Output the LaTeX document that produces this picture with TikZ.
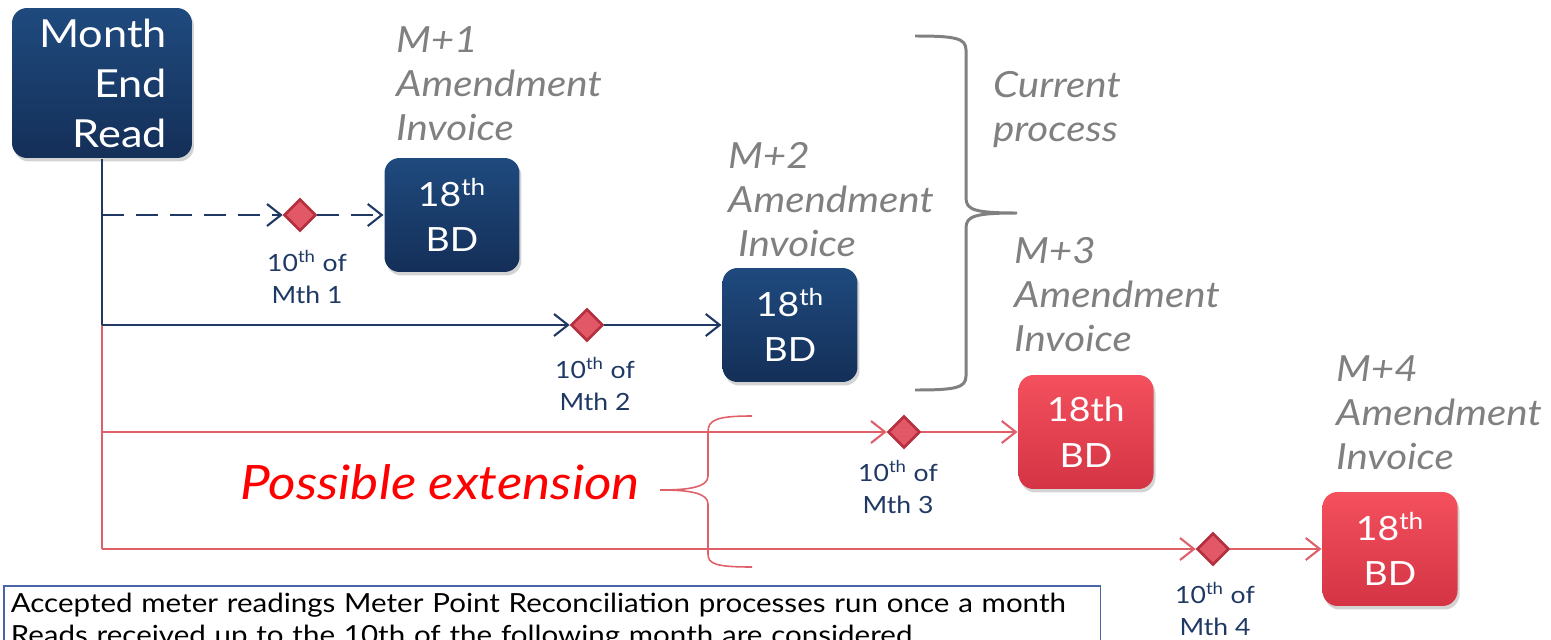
\documentclass[tikz,border=0pt]{standalone}
\usepackage{fontspec}
\setmainfont{Lato}[FakeStretch=1.12]
\usetikzlibrary{arrows.meta,shapes.geometric,shadows,positioning}
\definecolor{navy}{HTML}{1F3864}
\definecolor{navtop}{HTML}{1F4A7E}
\definecolor{navbot}{HTML}{142F58}
\definecolor{redtop}{HTML}{F4505E}
\definecolor{redbot}{HTML}{D43444}
\definecolor{linered}{HTML}{E0606A}
\definecolor{diafill}{HTML}{E25866}
\definecolor{diaedge}{HTML}{B3303E}
\definecolor{greytext}{HTML}{808080}
\definecolor{noteedge}{HTML}{4A64A8}
\begin{document}
\begin{tikzpicture}[x=0.02cm, y=-0.02cm, line width=1.2pt,
        box/.style = {rounded corners=0.3cm, text=white, drop shadow={opacity=0.35, shadow xshift=0.04cm, shadow yshift=-0.07cm}},
        bluebox/.style = {box, top color=navtop, bottom color=navbot},
        redbox/.style = {box, top color=redtop, bottom color=redbot},
        bd/.style = {minimum width=2.7cm, minimum height=2.28cm, align=center, font=\fontsize{19}{26}\selectfont},
        dia/.style = {diamond, draw=diaedge, fill=diafill, minimum size=0.64cm, inner sep=0pt, line width=1.5pt},
        mth/.style = {text=navy, align=center, font=\fontsize{13.5}{18.5}\selectfont},
        inv/.style = {text=greytext, align=left, anchor=west, inner sep=0pt, font=\fontsize{20.5}{25}\selectfont\itshape},
        arr/.style = {-{Straight Barb[length=0.28cm, width=0.44cm]}}]
        \useasboundingbox (0,0) rectangle (1551,639);
        \clip (0,0) rectangle (1551,639);
        \node[bluebox, text width=2.6cm, inner xsep=0.5cm, minimum height=3cm, align=right, font=\fontsize{22}{28.5}\selectfont] (mer) at (102,83) {Month\\End\\Read};
        \node[bluebox, bd] (bd1) at (452,215) {18\textsuperscript{th}\\BD};
        \node[bluebox, bd] (bd2) at (790,325) {18\textsuperscript{th}\\BD};
        \node[redbox, bd] (bd3) at (1086,432) {18th\\BD};
        \node[redbox, bd] (bd4) at (1390,549) {18\textsuperscript{th}\\BD};
        \node[dia] (d1) at (300,215) {};
        \node[dia] (d2) at (587,325) {};
        \node[dia] (d3) at (904,432) {};
        \node[dia] (d4) at (1213,549) {};
        \node[mth] (m1) at (307,277) {10\textsuperscript{th} of\\Mth 1};
        \node[mth] (m2) at (595,384) {10\textsuperscript{th} of\\Mth 2};
        \node[mth] (m3) at (898,487) {10\textsuperscript{th} of\\Mth 3};
        \node[mth] (m4) at (1215,609) {10\textsuperscript{th} of\\Mth 4};
        \node[inv] (i1) at (395,84) {M+1\\Amendment\\Invoice};
        \node[inv] (i2) at (727,200) {M+2\\Amendment\\\hspace{0.2cm}Invoice};
        \node[inv] (i3) at (1013,295) {M+3\\Amendment\\Invoice};
        \node[inv] (i4) at (1335,413) {M+4\\Amendment\\Invoice};
        \node[inv] (cur) at (992,110) {Current\\process};
        \node[text=red, font=\fontsize{27}{30}\selectfont\itshape] (ext) at (440,482) {Possible extension};
        \node[draw=noteedge, line width=0.9pt, anchor=north west, text width=21.66cm, inner xsep=0.14cm, inner ysep=0.15cm, align=left, font=\fontsize{15}{18}\selectfont] (note) at (3,585) {Accepted meter readings Meter Point Reconciliation processes run once a month\\Reads received up to the 10th of the following month are considered};
        \coordinate (b1) at (102,215);
        \coordinate (b2) at (102,325);
        \coordinate (b3) at (102,432);
        \coordinate (b4) at (102,549);
        \draw[navy] (mer.south) -- (b2);
        \draw[linered] (b2) -- (b4);
        \draw[navy, arr, dash pattern=on 0.44cm off 0.24cm] (b1) -- (d1);
        \draw[navy, arr, dash pattern=on 0.44cm off 0.24cm] (d1) -- (bd1);
        \draw[navy, arr] (b2) -- (d2);
        \draw[navy, arr] (d2) -- (bd2);
        \draw[linered, arr] (b3) -- (d3);
        \draw[linered, arr] (d3) -- (bd3);
        \draw[linered, arr] (b4) -- (d4);
        \draw[linered, arr] (d4) -- (bd4);
        \draw[greytext, line width=1.7pt] (915,36) .. controls (955,36) and (966,38) .. (966,50) -- (966,198) .. controls (966,210) and (975,213) .. (1017,213) .. controls (975,213) and (966,216) .. (966,228) -- (966,376) .. controls (966,388) and (955,390) .. (915,390);
        \draw[linered, line width=0.9pt] (752,416) .. controls (716,416) and (708,420) .. (708,432) -- (708,476) .. controls (708,487) and (690,490) .. (660,490) .. controls (690,490) and (708,493) .. (708,504) -- (708,554) .. controls (708,564) and (716,567) .. (752,567);
    \end{tikzpicture}
\end{document}
